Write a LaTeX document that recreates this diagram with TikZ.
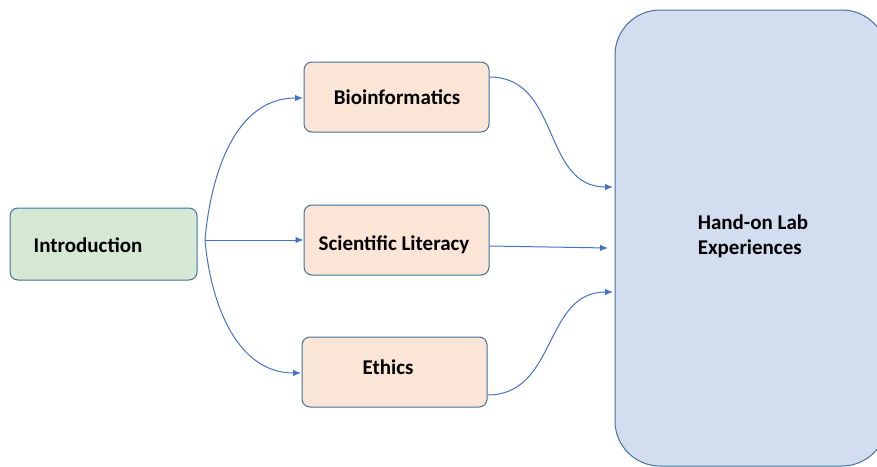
\documentclass[tikz,border=0pt]{standalone}
\usepackage{fontspec}
\setmainfont{Carlito}
\usetikzlibrary{arrows.meta}
\definecolor{bordc}{HTML}{41719C}
\definecolor{arrc}{HTML}{4472C4}
\definecolor{greenf}{HTML}{D5E8D4}
\definecolor{orangef}{HTML}{FBE5D6}
\definecolor{bluef}{HTML}{D2DEEF}
\tikzset{
  box/.style={draw=bordc, line width=1pt, rounded corners=8pt, inner sep=0pt},
  txt/.style={font=\bfseries\fontsize{21}{25}\selectfont, inner sep=0pt},
  introbox/.style={box, fill=greenf},
  topicbox/.style={box, fill=orangef, minimum width=185pt, minimum height=70pt},
  bigbox/.style={box, fill=bluef, rounded corners=45pt},
  conn/.style={draw=arrc, line width=1pt, -{Latex[length=8pt,width=6.5pt]}},
}
\begin{document}
\begin{tikzpicture}[x=1pt,y=-1pt]
\useasboundingbox (0,0) rectangle (877,466);
\begin{scope}
\clip (0,0) rectangle (877,466);
\node[bigbox, minimum width=272pt, minimum height=456pt] (lab) at (751,238) {};
\end{scope}
\node[txt, align=left] (labtxt) at (753,236) {Hand-on Lab\\Experiences};
\node[introbox, minimum width=187pt, minimum height=72pt] (intro) at (103.5,244) {};
\node[txt] (introtxt) at (88,245) {Introduction};
\node[topicbox] (bio) at (396.5,97) {};
\node[txt] (biotxt) at (397,97) {Bioinformatics};
\node[topicbox] (sci) at (396.5,240) {};
\node[txt] (scitxt) at (394,245) {Scientific Literacy};
\node[topicbox] (eth) at (394.5,372) {};
\node[txt] (ethtxt) at (388,367) {Ethics};
\coordinate (split) at (205,240);
\coordinate (bioin) at (303,98);
\coordinate (ethin) at (301,373);
\coordinate (labA) at (613,187);
\coordinate (labB) at (608,248);
\coordinate (labC) at (613,292);
\draw[conn] (split) -- (sci.west);
\draw[conn] (split) to[out=85,in=180] (bioin);
\draw[conn] (split) to[out=-85,in=180] (ethin);
\draw[conn] (bio.east |- 0,77) to[out=0,in=180,looseness=1.1] (labA);
\draw[conn] (sci.east |- 0,246) -- (labB);
\draw[conn] (eth.east |- 0,395) to[out=0,in=180,looseness=1.1] (labC);
\end{tikzpicture}
\end{document}
